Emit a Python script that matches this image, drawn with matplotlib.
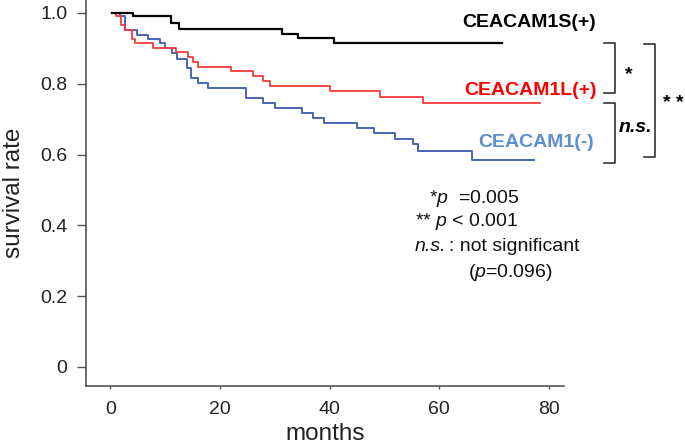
import matplotlib
matplotlib.use("Agg")
import matplotlib.pyplot as plt

plt.rcParams["font.family"] = ["Liberation Sans", "DejaVu Sans"]
plt.rcParams["mathtext.fontset"] = "custom"
plt.rcParams["mathtext.rm"] = "Liberation Sans"
plt.rcParams["mathtext.it"] = "Liberation Sans:italic"

# Kaplan-Meier step curves (months, survival rate)
s_pos_t = [0.3, 4.2, 11.1, 12.6, 31.4, 34.2, 40.8, 71.4]
s_pos_v = [1.0, 0.991, 0.973, 0.955, 0.941, 0.928, 0.916, 0.916]

l_pos_t = [0.3, 1.0, 1.9, 2.7, 3.9, 4.5, 7.8, 12.0, 14.2, 15.1, 16.0, 22.1,
           26.0, 27.9, 29.1, 40.1, 49.1, 57.0, 78.3]
l_pos_v = [1.0, 0.991, 0.966, 0.952, 0.926, 0.916, 0.902, 0.889, 0.875, 0.862,
           0.848, 0.835, 0.822, 0.808, 0.794, 0.780, 0.762, 0.745, 0.745]

neg_t = [0.3, 1.8, 2.7, 4.8, 6.9, 9.1, 10.0, 11.2, 12.1, 13.9, 14.8, 16.0, 17.8,
         24.8, 27.9, 30.0, 34.9, 37.0, 38.9, 45.0, 48.0, 52.0, 55.2, 56.1, 66.0, 77.3]
neg_v = [1.0, 0.991, 0.952, 0.938, 0.926, 0.914, 0.900, 0.886, 0.869, 0.844, 0.816,
         0.801, 0.787, 0.761, 0.747, 0.732, 0.718, 0.704, 0.688, 0.674, 0.660, 0.643,
         0.629, 0.611, 0.586, 0.586]

x_ticks = [0, 20, 40, 60, 80]
y_ticks = [0, 0.2, 0.4, 0.6, 0.8, 1.0]
y_labels = ["0", "0.2", "0.4", "0.6", "0.8", "1.0"]

fig = plt.figure(figsize=(6.85, 4.47), dpi=100)
ax = fig.add_axes([0.1255, 0.1365, 0.6975, 0.8635])

ax.step(neg_t, neg_v, where="post", color="#4a64b8", lw=1.4)
ax.step(l_pos_t, l_pos_v, where="post", color="#f23a3a", lw=1.3)
ax.step(s_pos_t, s_pos_v, where="post", color="black", lw=1.6)

ax.set_xlim(-4.43, 82.68)
ax.set_ylim(-0.0537, 1.0367)
ax.set_xticks(x_ticks)
ax.set_yticks(y_ticks)
ax.set_yticklabels(y_labels)
ax.tick_params(axis="y", length=6.5, width=1, pad=7, labelsize=14, color="#555555", labelcolor="#222222")
ax.tick_params(axis="x", length=2.5, width=1, pad=8, labelsize=14, color="#555555", labelcolor="#222222")
for side in ["top", "right"]:
    ax.spines[side].set_visible(False)
for side in ["left", "bottom"]:
    ax.spines[side].set_color("#555555")
    ax.spines[side].set_linewidth(1.2)

ax.set_ylabel("survival rate", fontsize=17.5, color="#222222", labelpad=11)
ax.set_xlabel("months", fontsize=17.5, color="#222222", labelpad=4)

# group labels
ax.text(64.2, 0.972, "CEACAM1S(+)", color="black", fontsize=14, fontweight="bold", va="center", clip_on=False)
ax.text(64.6, 0.782, "CEACAM1L(+)", color="#ff0000", fontsize=14, fontweight="bold", va="center", clip_on=False)
ax.text(67.0, 0.633, "CEACAM1(-)", color="#5b8fd0", fontsize=14, fontweight="bold", va="center", clip_on=False)

# p-value notes
ax.text(58.2, 0.477, "*$p$  =0.005", fontsize=14, va="center", color="#111111")
ax.text(55.5, 0.410, "** $p$ < 0.001", fontsize=14, va="center", color="#111111")
ax.text(55.5, 0.339, "n.s.", fontsize=14, style="italic", va="center", color="#111111")
ax.text(61.7, 0.339, ": not significant", fontsize=14, va="center", color="#111111")
ax.text(65.3, 0.268, "($p$=0.096)", fontsize=14, va="center", color="#111111")


def bracket(x_in, x_out, y_top, y_bot):
    ax.plot([x_in, x_out, x_out, x_in], [y_top, y_top, y_bot, y_bot],
            color="#333333", lw=1.2, clip_on=False)


bracket(90.1, 92.1, 0.915, 0.774)
bracket(90.1, 92.1, 0.746, 0.576)
bracket(97.4, 99.4, 0.912, 0.593)
ax.text(94.5, 0.826, "*", fontsize=14, fontweight="bold", ha="center", va="center", clip_on=False)
ax.text(95.7, 0.676, "n.s.", fontsize=14, fontweight="bold", style="italic", ha="center", va="center", clip_on=False)
ax.text(102.6, 0.744, "* *", fontsize=14, fontweight="bold", ha="center", va="center", clip_on=False)

fig.savefig("out.png", dpi=100)
